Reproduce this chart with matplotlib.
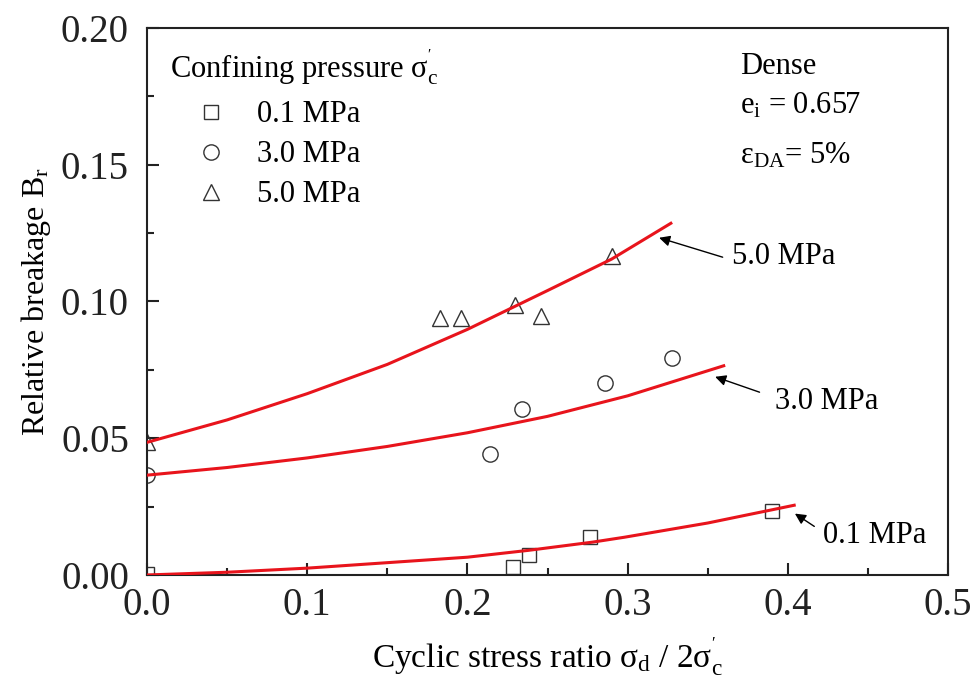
import matplotlib
matplotlib.use('Agg')
import matplotlib.pyplot as plt
from matplotlib.lines import Line2D

plt.rcParams['font.family'] = ['Liberation Serif', 'DejaVu Serif']
plt.rcParams['mathtext.fontset'] = 'custom'
plt.rcParams['mathtext.rm'] = 'Liberation Serif'
plt.rcParams['mathtext.it'] = 'Liberation Serif:italic'

# measured points
x_01 = [0.0, 0.2285, 0.2385, 0.2765, 0.390]
y_01 = [0.0005, 0.003, 0.0073, 0.0138, 0.0233]
x_30 = [0.0, 0.214, 0.234, 0.286, 0.328]
y_30 = [0.0364, 0.0444, 0.0608, 0.0703, 0.0794]
x_50 = [0.0, 0.183, 0.196, 0.230, 0.246, 0.290]
y_50 = [0.0485, 0.094, 0.094, 0.0987, 0.0947, 0.1166]

# fitted curves
cx_01 = [0.0, 0.05, 0.1, 0.15, 0.2, 0.238, 0.278, 0.298, 0.35, 0.404]
cy_01 = [0.0, 0.001, 0.0025, 0.0045, 0.0065, 0.009, 0.012, 0.0138, 0.019, 0.0255]
cx_30 = [0.0, 0.05, 0.1, 0.15, 0.2, 0.25, 0.3, 0.36]
cy_30 = [0.0365, 0.0393, 0.0428, 0.0470, 0.0520, 0.0580, 0.0655, 0.0765]
cx_50 = [0.0, 0.05, 0.1, 0.15, 0.2, 0.25, 0.29, 0.327]
cy_50 = [0.0485, 0.0567, 0.0663, 0.0770, 0.0898, 0.1040, 0.1155, 0.1286]

labels = ['0.1 MPa', '3.0 MPa', '5.0 MPa']

fig = plt.figure(figsize=(9.77, 6.90), dpi=100)
ax = fig.add_axes([0.1505, 0.1667, 0.8198, 0.7927])

mk = dict(linestyle='none', markerfacecolor='none', markeredgecolor='#333333', markeredgewidth=1.0)
ax.plot(x_01, y_01, marker='s', markersize=9.5, **mk)
ax.plot(x_30, y_30, marker='o', markersize=11, **mk)
ax.plot(x_50, y_50, marker='^', markersize=12, **mk)

red = '#e8141c'
ax.plot(cx_01, cy_01, color=red, lw=2.2, zorder=3)
ax.plot(cx_30, cy_30, color=red, lw=2.2, zorder=3)
ax.plot(cx_50, cy_50, color=red, lw=2.2, zorder=3)

# arrows + curve labels
arr = dict(arrowstyle='-|>', color='black', lw=1.0, mutation_scale=16)
ax.annotate('', xy=(0.318, 0.1236), xytext=(0.361, 0.1159), arrowprops=arr)
ax.text(0.365, 0.1163, labels[2], fontsize=22, va='center')
ax.annotate('', xy=(0.353, 0.0728), xytext=(0.384, 0.0665), arrowprops=arr)
ax.text(0.392, 0.0633, labels[1], fontsize=22, va='center')
ax.annotate('', xy=(0.403, 0.0230), xytext=(0.418, 0.0172), arrowprops=arr)
ax.text(0.422, 0.0146, labels[0], fontsize=22, va='center')

ax.set_xlim(0, 0.5)
ax.set_ylim(0, 0.20)
ax.set_xticks([0, 0.1, 0.2, 0.3, 0.4, 0.5])
ax.set_xticks([0.05, 0.15, 0.25, 0.35, 0.45], minor=True)
ax.set_yticks([0, 0.05, 0.10, 0.15, 0.20])
ax.set_yticks([0.025, 0.075, 0.125, 0.175], minor=True)
ax.set_xticklabels(['0.0', '0.1', '0.2', '0.3', '0.4', '0.5'])
ax.set_yticklabels(['0.00', '0.05', '0.10', '0.15', '0.20'])
ax.tick_params(which='both', direction='in', width=1.5, labelsize=28, colors='#222222')
ax.tick_params(which='major', length=8.5)
ax.tick_params(which='minor', length=5)
ax.tick_params(axis='x', which='major', pad=9)
ax.tick_params(axis='y', which='major', pad=13)
for s in ax.spines.values():
    s.set_linewidth(1.5)
    s.set_color('#222222')

ax.set_xlabel(r"Cyclic stress ratio $\mathrm{σ}_{\rm d}$ / 2$\mathrm{σ}_{\rm c}^{'}$", fontsize=24, labelpad=8)
ax.set_ylabel(r"Relative breakage B$_{\rm r}$", fontsize=23, labelpad=6)

# legend
ax.text(0.029, 0.929, r"Confining pressure $\mathrm{σ}_{\rm c}^{'}$", transform=ax.transAxes,
        fontsize=22, va='center')
handles = [Line2D([], [], marker='s', markersize=9.5, **mk),
           Line2D([], [], marker='o', markersize=11, **mk),
           Line2D([], [], marker='^', markersize=12, **mk)]
ax.legend(handles, labels, loc='upper left', bbox_to_anchor=(0.061, 0.868), frameon=False,
          fontsize=22, handlelength=1.0, handletextpad=1.0, labelspacing=0.36,
          borderpad=0, borderaxespad=0)

ax.text(0.740, 0.929, 'Dense', transform=ax.transAxes, fontsize=22, va='center')
ax.text(0.740, 0.858, r"e$_{\rm i}$ = 0.657", transform=ax.transAxes, fontsize=22, va='center')
ax.text(0.740, 0.766, r"$\mathrm{ε}_{\rm DA}$= 5%", transform=ax.transAxes, fontsize=22, va='center')

fig.savefig('out.png', dpi=100)
